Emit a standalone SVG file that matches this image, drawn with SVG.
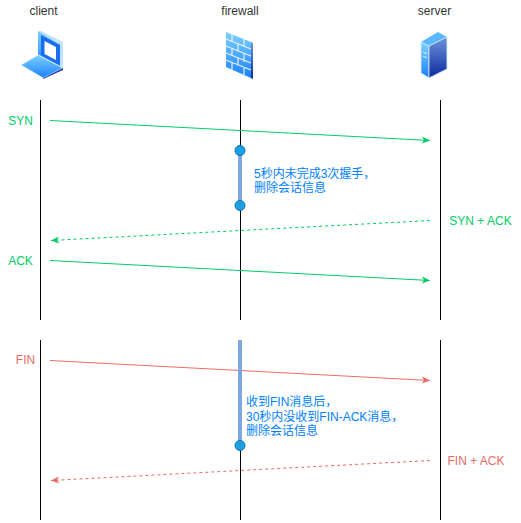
<svg xmlns="http://www.w3.org/2000/svg" width="521" height="523" viewBox="0 0 521 523">
<style>
text{font-family:"Liberation Sans","Noto Sans CJK SC",sans-serif;font-size:12px}
.t{fill:#333;text-anchor:middle}
.g{fill:#00CC66}
.r{fill:#EA6B66}
.b{fill:#007FFF}
.m{text-anchor:middle}
.life{stroke:#000;stroke-width:1;fill:none}
.bar{stroke:#7EA6E0;stroke-width:4;fill:none}
.dot{fill:#1BA1E2;stroke:#006EAF;stroke-width:1}
.sg{stroke:#00CC66;fill:none}
.sr{stroke:#EA6B66;fill:none}
.d{stroke-dasharray:3 3}
</style>
<defs>
<marker id="ag" viewBox="0 0 8 8" refX="8" refY="4" markerWidth="8" markerHeight="8" markerUnits="userSpaceOnUse" orient="auto"><path d="M0 0.5L8 4L0 7.5L2 4Z" fill="#00CC66"/></marker>
<marker id="ar" viewBox="0 0 8 8" refX="8" refY="4" markerWidth="8" markerHeight="8" markerUnits="userSpaceOnUse" orient="auto"><path d="M0 0.5L8 4L0 7.5L2 4Z" fill="#EA6B66"/></marker>
<linearGradient id="v1" x1="0" y1="0" x2="0" y2="1"><stop offset="0" stop-color="#7fd0ff"/><stop offset="1" stop-color="#1a80ff"/></linearGradient>
<linearGradient id="v2" x1="0" y1="0" x2="0" y2="1"><stop offset="0" stop-color="#6f94dc"/><stop offset="1" stop-color="#0a2a9e"/></linearGradient>
</defs>
<g id="connectors">
<path class="life" d="M40.5 100V320M40.5 340V520M240.5 100V320M240.5 340V520M440.5 100V320M440.5 340V520"/>
<path class="sg" d="M50 120.5L430 140.5" marker-end="url(#ag)"/>
<path class="sg d" d="M430 220.5L51 240.5" marker-end="url(#ag)"/>
<path class="sg" d="M50 260.5L430 280.5" marker-end="url(#ag)"/>
<path class="sr" d="M50 360.5L430 380.5" marker-end="url(#ar)"/>
<path class="sr d" d="M430 460.5L51 480.5" marker-end="url(#ar)"/>
</g>
<g id="client"><text class="t" x="43.5" y="15">client</text>
<path d="M38 31L63 44V68L38 55Z" fill="url(#v1)"/>
<path d="M38 31L41 31L63 42V68H60V45Z" fill="#bfe3ff"/>
<path d="M41 35L60 45V65L41 55Z" fill="#1a6cf0"/>
<path d="M44.500 41L56 47V60L44.500 54Z" fill="#fff"/>
<path d="M38 55L63 68L43 78L21 65Z" fill="url(#v1)" stroke="#d8f0ff" stroke-width="1"/>
<path d="M43 78L63 68V70L43 79Z" fill="#1a3fb0"/>
</g>
<g id="firewall"><text class="t" x="240" y="15">firewall</text>
<path d="M226 32L251 42V78L226 67Z" fill="url(#v1)"/>
<path d="M251 42L253 43V79L251 78Z" fill="url(#v2)"/>
<path d="M226 39L251 49M226 46L251 56M226 53L251 63M226 60L251 70M232 34V42M244 39V47M238 44V51M232 49V56M244 54V62M238 58V65M232 63V70M244 68V76" stroke="#e6f4ff" stroke-width="1.2" fill="none"/>
</g>
<g id="server"><text class="t" x="434.500" y="15">server</text>
<path d="M421 42L438 32L447 37L429 46Z" fill="#5ab8ff"/>
<path d="M421 42L429 46V78L421 73Z" fill="url(#v1)" stroke="#d8f0ff" stroke-width=".8"/>
<path d="M429 46L447 37V69L429 78Z" fill="url(#v2)" stroke="#d8f0ff" stroke-width=".8"/>
<path d="M423 52L427 54M423 56L427 58" stroke="#e6f4ff" fill="none"/>
</g>
<g id="syn-timer">
<path class="bar" d="M240 150.500V205.500"/>
<circle class="dot" cx="240" cy="150.500" r="5"/>
<circle class="dot" cx="240" cy="205.500" r="5"/>
<text class="b" x="254" y="178">5秒内未完成3次握手，</text>
<text class="b" x="254" y="192">删除会话信息</text>
</g>
<g id="fin-timer">
<path class="bar" d="M240 340V445.500"/>
<circle class="dot" cx="240" cy="445.500" r="5"/>
<text class="b" x="246" y="406">收到FIN消息后，</text>
<text class="b" x="246" y="421">30秒内没收到FIN-ACK消息，</text>
<text class="b" x="246" y="435">删除会话信息</text>
</g>
<g id="labels">
<text class="g m" x="20.500" y="125">SYN</text>
<text class="g m" x="480.500" y="225">SYN + ACK</text>
<text class="g m" x="20.500" y="265">ACK</text>
<text class="r m" x="25.500" y="364">FIN</text>
<text class="r m" x="476" y="465">FIN + ACK</text>
</g>
</svg>
